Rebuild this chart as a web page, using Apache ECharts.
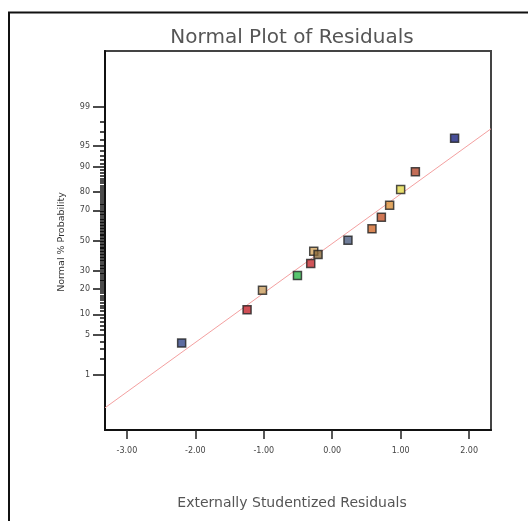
<!DOCTYPE html>
<html><head><meta charset="utf-8">
<script src="https://cdn.jsdelivr.net/npm/echarts@6/dist/echarts.min.js"></script>
<style>html,body{margin:0;padding:0;background:#fff}#c{width:528px;height:521px}</style>
</head><body><div id="c"></div>
<script>
// ---- data ----
const residuals     = [-2.20, -1.244, -1.019, -0.508, -0.314, -0.27, -0.207, 0.23, 0.581, 0.718, 0.839, 1.00, 1.215, 1.788];
const probabilities = [3.76, 11.5, 19.4, 27.1, 34.5, 42.6, 40.4, 50.2, 58.0, 65.7, 73.0, 81.2, 88.4, 96.2];
const pointColors   = ['#34478a','#c4232c','#c89c5c','#2fb84a','#c42a30','#d4a860','#8a6a3a','#4c5c80','#d0692c','#c4552a','#d9903a','#e2d84a','#b44a2e','#1a237e'];
const fitResiduals     = [-3.32, 2.32];
const fitProbabilities = [0.184, 97.38];
const xTicks      = [-3, -2, -1, 0, 1, 2];
const yTickLabels = [1, 5, 10, 20, 30, 50, 70, 80, 90, 95, 99];

// normal-probability (probit) scale
function probit(p){
  const a=[-3.969683028665376e+01,2.209460984245205e+02,-2.759285104469687e+02,1.383577518672690e+02,-3.066479806614716e+01,2.506628277459239e+00];
  const b=[-5.447609879822406e+01,1.615858368580409e+02,-1.556989798598866e+02,6.680131188771972e+01,-1.328068155288572e+01];
  const c=[-7.784894002430293e-03,-3.223964580411365e-01,-2.400758277161838e+00,-2.549732539343734e+00,4.374664141464968e+00,2.938163982698783e+00];
  const d=[7.784695709041462e-03,3.224671290700398e-01,2.445134137142996e+00,3.754408661907416e+00];
  const pl=0.02425, ph=1-pl; let q,r;
  if(p<pl){q=Math.sqrt(-2*Math.log(p));return (((((c[0]*q+c[1])*q+c[2])*q+c[3])*q+c[4])*q+c[5])/((((d[0]*q+d[1])*q+d[2])*q+d[3])*q+1);}
  if(p<=ph){q=p-0.5;r=q*q;return (((((a[0]*r+a[1])*r+a[2])*r+a[3])*r+a[4])*r+a[5])*q/(((((b[0]*r+b[1])*r+b[2])*r+b[3])*r+b[4])*r+1);}
  q=Math.sqrt(-2*Math.log(1-p));return -(((((c[0]*q+c[1])*q+c[2])*q+c[3])*q+c[4])*q+c[5])/((((d[0]*q+d[1])*q+d[2])*q+d[3])*q+1);
}
const z = pct => probit(pct/100);
const yMajor = yTickLabels.map(z);
const yMinor = [];
for (let i = 1; i <= 99; i++) yMinor.push(z(i));

const pointData = residuals.map((x,i)=>({value:[x, z(probabilities[i])], itemStyle:{color:pointColors[i]}}));
const fitData = fitResiduals.map((x,i)=>[x, z(fitProbabilities[i])]);

const FONT = '"DejaVu Sans", sans-serif';
const chart = echarts.init(document.getElementById('c'), null, {renderer:'canvas'});
chart.setOption({
  animation:false,
  backgroundColor:'#fff',
  grid:{left:105, top:51, right:37, bottom:91, show:true, borderColor:'#444', borderWidth:2, backgroundColor:'transparent'},
  xAxis:{
    type:'value', min:-3.32, max:2.32,
    axisLine:{show:true, onZero:false, lineStyle:{color:'#111', width:2}},
    axisTick:{show:true, length:9, lineStyle:{color:'#222', width:1.5}, customValues:xTicks},
    axisLabel:{show:true, margin:17, fontSize:8, color:'#444', fontFamily:FONT, customValues:xTicks,
      formatter:v=>v.toFixed(2)},
    splitLine:{show:false}
  },
  yAxis:[{
    type:'value', min:-3.29, max:3.29, position:'left',
    axisLine:{show:true, onZero:false, lineStyle:{color:'#111', width:2}},
    axisTick:{show:true, length:12, lineStyle:{color:'#111', width:1.5}, customValues:yMajor},
    axisLabel:{show:true, margin:15, fontSize:8, color:'#444', fontFamily:FONT, customValues:yMajor,
      formatter:v=>{for(let i=0;i<yMajor.length;i++){if(Math.abs(yMajor[i]-v)<1e-6)return String(yTickLabels[i]);}return '';}},
    splitLine:{show:false}
  },{
    type:'value', min:-3.29, max:3.29, position:'left', offset:0,
    axisLine:{show:false, onZero:false},
    axisTick:{show:true, length:5, lineStyle:{color:'#111', width:1.5}, customValues:yMinor},
    axisLabel:{show:false},
    splitLine:{show:false}
  }],
  series:[{
    type:'line', data:fitData, symbol:'none', silent:true,
    lineStyle:{color:'#f4a0a0', width:1}, z:2
  },{
    type:'scatter', data:pointData, symbol:'rect', symbolSize:8,
    itemStyle:{borderColor:'#222', borderWidth:1.5}, z:3
  }],
  graphic:[
    {type:'rect', shape:{x:9, y:12.5, width:600, height:600}, style:{fill:'none', stroke:'#111', lineWidth:2}, silent:true},
    {type:'text', x:292, y:38, style:{text:'Normal Plot of Residuals', font:'20px '+FONT, fill:'#555', align:'center', verticalAlign:'middle'}},
    {type:'text', x:292, y:503, style:{text:'Externally Studentized Residuals', font:'14px '+FONT, fill:'#555', align:'center', verticalAlign:'middle'}},
    {type:'text', x:62, y:242, rotation:Math.PI/2, style:{text:'Normal % Probability', font:'9.5px '+FONT, fill:'#333', align:'center', verticalAlign:'middle'}}
  ]
});
</script></body></html>
